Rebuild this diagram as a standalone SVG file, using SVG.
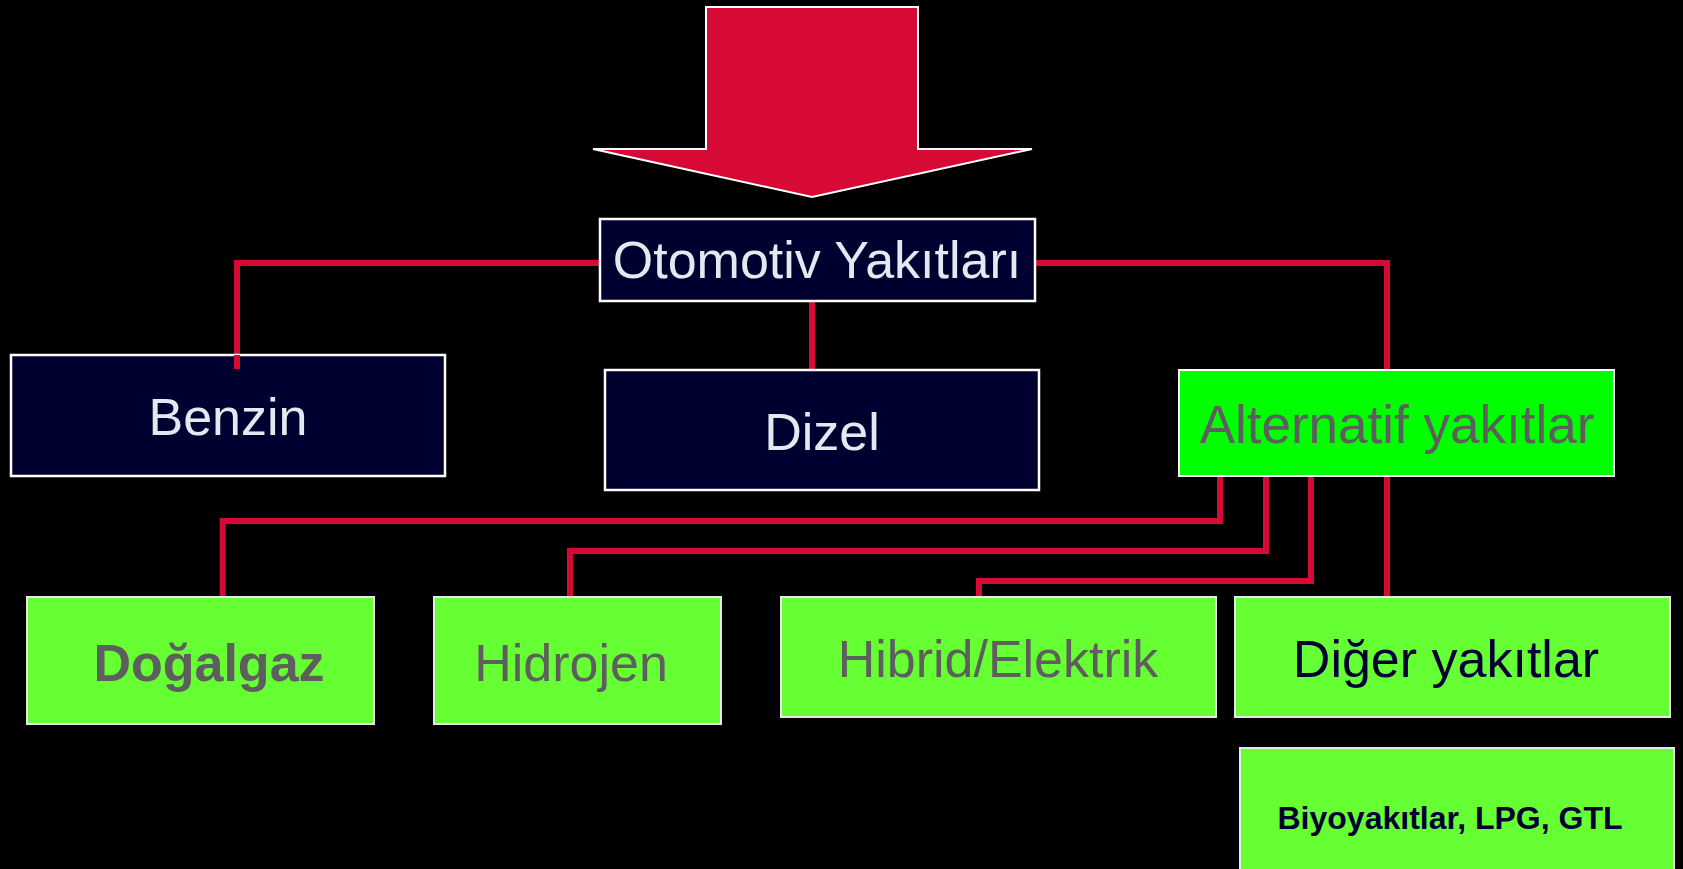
<svg xmlns="http://www.w3.org/2000/svg" width="1683" height="869" viewBox="0 0 1683 869">
  <style>
    .navy { fill: #000030; stroke: #ffffff; stroke-width: 2.5; }
    .lime { fill: #66ff33; stroke: #e8e8e8; stroke-width: 2; }
    .green { fill: #00ff00; stroke: #ffffff; stroke-width: 2; }
    .light { fill: #e3e9f1; font-family: "Liberation Sans", Arial, sans-serif; font-size: 52px; text-anchor: middle; }
    .grey { fill: #5e5e5e; font-family: "Liberation Sans", Arial, sans-serif; font-size: 52px; text-anchor: middle; }
    .dark { fill: #000033; font-family: "Liberation Sans", Arial, sans-serif; font-size: 52px; text-anchor: middle; }
    .small { font-size: 32px; font-weight: bold; }
    .bold { font-weight: bold; }
    .link { fill: none; stroke: #d70a35; stroke-width: 6; stroke-linejoin: miter; }
  </style>
  <rect x="0" y="0" width="1683" height="869" fill="#000000"/>

  <!-- big downward arrow -->
  <g id="arrow">
    <polygon points="706,7 918,7 918,149 1032,149 812,197 593,149 706,149" fill="#d70a35" stroke="#ffffff" stroke-width="2"/>
  </g>

  <!-- connectors -->
  <g id="connectors">
    <polyline class="link" points="600,263 237,263 237,369"/>
    <polyline class="link" points="812,301 812,370"/>
    <polyline class="link" points="1035,263 1387,263 1387,370"/>
    <polyline class="link" points="1220,475 1220,521 222.7,521 222.7,597"/>
    <polyline class="link" points="1266,475 1266,551 570,551 570,597"/>
    <polyline class="link" points="1311,475 1311,581 979,581 979,597"/>
    <polyline class="link" points="1387,475 1387,597"/>
  </g>

  <g id="otomotiv">
    <rect class="navy" x="600" y="219" width="435" height="82"/>
    <text class="light" x="817" y="278">Otomotiv Yakıtları</text>
  </g>

  <g id="benzin">
    <rect class="navy" x="11" y="355" width="434" height="121"/>
    <polyline class="link" points="237,355 237,369"/>
    <text class="light" x="228" y="435">Benzin</text>
  </g>

  <g id="dizel">
    <rect class="navy" x="605" y="370" width="434" height="120"/>
    <text class="light" x="822" y="450">Dizel</text>
  </g>

  <g id="alternatif">
    <rect class="green" x="1179" y="370" width="435" height="106"/>
    <text class="grey" x="1397" y="443" style="font-size:53px">Alternatif yakıtlar</text>
  </g>

  <g id="dogalgaz">
    <rect class="lime" x="27" y="597" width="347" height="127"/>
    <text class="grey bold" x="209" y="681">Doğalgaz</text>
  </g>

  <g id="hidrojen">
    <rect class="lime" x="434" y="597" width="287" height="127"/>
    <text class="grey" x="571" y="681">Hidrojen</text>
  </g>

  <g id="hibrid">
    <rect class="lime" x="781" y="597" width="435" height="120"/>
    <text class="grey" x="998" y="677">Hibrid/Elektrik</text>
  </g>

  <g id="diger">
    <rect class="lime" x="1235" y="597" width="435" height="120"/>
    <text class="dark" x="1446" y="677">Diğer yakıtlar</text>
  </g>

  <g id="biyoyakitlar">
    <rect class="lime" x="1240" y="748" width="434" height="140"/>
    <text class="dark small" x="1450" y="829">Biyoyakıtlar, LPG, GTL</text>
  </g>
</svg>
